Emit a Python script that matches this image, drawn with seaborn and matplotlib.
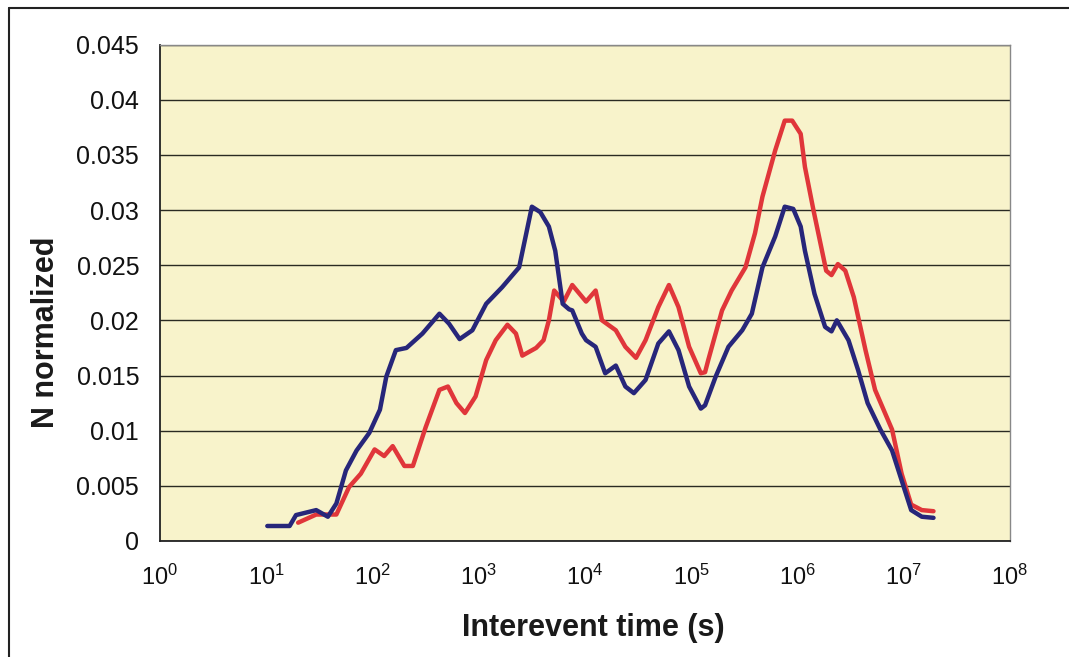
import numpy as np
import pandas as pd
import matplotlib
matplotlib.use("Agg")
import matplotlib.pyplot as plt
import matplotlib.ticker as mticker
from matplotlib.lines import Line2D
import seaborn as sns

# ---- data (x given as log10 exponents of interevent time in s) ----
blue_logx = [1.01, 1.22, 1.28, 1.47, 1.58, 1.66, 1.75, 1.85, 1.97, 2.07, 2.13, 2.22, 2.32,
             2.47, 2.63, 2.72, 2.82, 2.94, 3.07, 3.22, 3.38, 3.50, 3.58, 3.66, 3.72, 3.79,
             3.85, 3.88, 3.97, 4.01, 4.10, 4.19, 4.29, 4.38, 4.46, 4.57, 4.69, 4.79, 4.88,
             4.98, 5.09, 5.13, 5.23, 5.35, 5.48, 5.57, 5.67, 5.79, 5.88, 5.96, 6.03, 6.07,
             6.16, 6.26, 6.32, 6.37, 6.48, 6.57, 6.66, 6.78, 6.89, 6.98, 7.07, 7.17, 7.28]
blue_y = [0.00136, 0.00136, 0.00235, 0.0028, 0.0022, 0.0034, 0.0064, 0.0082, 0.0098, 0.0119,
          0.0149, 0.0173, 0.0175, 0.0188, 0.0206, 0.0197, 0.0183, 0.0191, 0.0215, 0.0230,
          0.0248, 0.0303, 0.0298, 0.0285, 0.0263, 0.0215, 0.0210, 0.0209, 0.0188, 0.0182,
          0.0176, 0.0152, 0.0159, 0.0140, 0.0134, 0.0146, 0.0179, 0.0190, 0.0173, 0.0140,
          0.0120, 0.0123, 0.0149, 0.0176, 0.0191, 0.0206, 0.0248, 0.0276, 0.0303, 0.0301,
          0.0285, 0.0263, 0.0224, 0.0194, 0.0190, 0.0200, 0.0182, 0.0155, 0.0125, 0.0101,
          0.0082, 0.0055, 0.0028, 0.0022, 0.0021]

red_logx = [1.30, 1.47, 1.66, 1.78, 1.89, 2.02, 2.11, 2.19, 2.30, 2.38, 2.50, 2.63, 2.71,
            2.79, 2.87, 2.97, 3.07, 3.16, 3.27, 3.35, 3.41, 3.54, 3.61, 3.66, 3.71, 3.80,
            3.88, 4.01, 4.10, 4.16, 4.29, 4.38, 4.48, 4.57, 4.69, 4.79, 4.88, 4.98, 5.09,
            5.13, 5.16, 5.29, 5.38, 5.51, 5.60, 5.67, 5.79, 5.88, 5.95, 6.03, 6.07, 6.15,
            6.27, 6.32, 6.38, 6.45, 6.53, 6.64, 6.73, 6.89, 6.98, 7.07, 7.17, 7.28]
red_y = [0.00166, 0.0024, 0.0024, 0.0049, 0.0061, 0.0083, 0.0077, 0.0086, 0.0068, 0.0068,
         0.0103, 0.0137, 0.0140, 0.0125, 0.0116, 0.0131, 0.0164, 0.0182, 0.0196, 0.0188,
         0.0168, 0.0175, 0.0182, 0.0200, 0.0227, 0.0217, 0.0232, 0.0217, 0.0227, 0.0200,
         0.0191, 0.0176, 0.0166, 0.0182, 0.0212, 0.0232, 0.0212, 0.0176, 0.0152, 0.0153,
         0.0164, 0.0209, 0.0227, 0.0248, 0.0279, 0.0312, 0.0354, 0.0381, 0.0381, 0.0369,
         0.0339, 0.0300, 0.0245, 0.0241, 0.0251, 0.0245, 0.0221, 0.0173, 0.0137, 0.0101,
         0.0061, 0.0033, 0.0028, 0.0027]

y_ticks = [0, 0.005, 0.01, 0.015, 0.02, 0.025, 0.03, 0.035, 0.04, 0.045]
x_tick_exps = [0, 1, 2, 3, 4, 5, 6, 7, 8]

blue_df = pd.DataFrame({"t": 10 ** np.array(blue_logx), "n": blue_y})
red_df = pd.DataFrame({"t": 10 ** np.array(red_logx), "n": red_y})

sns.set_style("white")
plt.rcParams["font.family"] = ["Liberation Sans", "DejaVu Sans"]
plt.rcParams["mathtext.fontset"] = "custom"
plt.rcParams["mathtext.rm"] = "Liberation Sans"
plt.rcParams["mathtext.it"] = "Liberation Sans"

W, H = 1069, 657
fig = plt.figure(figsize=(W / 100, H / 100), dpi=100)
# outer chart frame (top and left edges visible)
fig.lines.append(Line2D([9 / W, 1.0], [1 - 8 / H, 1 - 8 / H], transform=fig.transFigure,
                        color="#222222", linewidth=1.5))
fig.lines.append(Line2D([9 / W, 9 / W], [0.0, 1 - 8 / H], transform=fig.transFigure,
                        color="#222222", linewidth=1.5))

ax = fig.add_axes([160 / W, 1 - 541 / H, 850 / W, (541 - 44.5) / H])
ax.set_facecolor("#F8F3CB")

sns.lineplot(data=red_df, x="t", y="n", ax=ax, sort=False, color="#E0363A",
             linewidth=3.2, estimator=None, solid_joinstyle="round", solid_capstyle="round")
sns.lineplot(data=blue_df, x="t", y="n", ax=ax, sort=False, color="#27267A",
             linewidth=3.2, estimator=None, solid_joinstyle="round", solid_capstyle="round")

ax.set_xscale("log")
ax.set_xlim(1, 1e8)
ax.set_ylim(0, 0.045)
ax.set_xticks([10.0 ** e for e in x_tick_exps])
ax.xaxis.set_minor_locator(mticker.NullLocator())
ax.xaxis.set_major_formatter(mticker.LogFormatterMathtext())
ax.set_yticks(y_ticks)
ax.yaxis.set_major_formatter(mticker.FuncFormatter(lambda v, p: "%g" % v))

ax.grid(axis="y", color="#2a2a22", linewidth=1.0)
ax.set_axisbelow(True)
for s in ["left", "bottom"]:
    ax.spines[s].set_color("#222222")
    ax.spines[s].set_linewidth(1.3)
for s in ["top", "right"]:
    ax.spines[s].set_color("#888888")
    ax.spines[s].set_linewidth(1.0)

ax.tick_params(axis="both", which="major", direction="out", length=5, width=1.2,
               color="#222222", labelcolor="#111111")
ax.tick_params(axis="y", labelsize=18, pad=10)
ax.tick_params(axis="x", labelsize=17, pad=12)

ax.set_xlabel("Interevent time (s)", fontsize=22, fontweight="bold", color="#1a1a1a")
ax.set_ylabel("N normalized", fontsize=22, fontweight="bold", color="#1a1a1a")
ax.xaxis.set_label_coords((593 - 160) / 850, (541 - 613) / 496.5)
ax.yaxis.set_label_coords((61 - 160) / 850, (541 - 332) / 496.5)

fig.savefig("out.png", dpi=100)
